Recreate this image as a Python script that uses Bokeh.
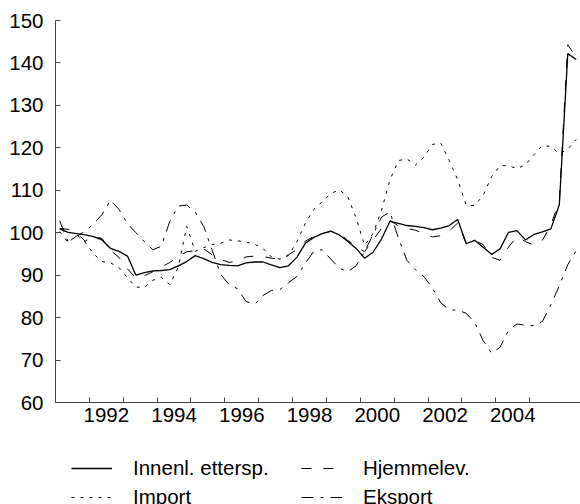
from bokeh.plotting import figure
from bokeh.layouts import column
from bokeh.models import FixedTicker, Legend, LegendItem, Range1d
from bokeh.embed import file_html
from bokeh.resources import INLINE

# Quarterly observations, 1991Q1 .. 2006Q2
start_year = 1991
n_quarters = 62
quarter_x = [start_year + (i // 4) + ((i % 4) + 0.5) / 4 for i in range(n_quarters)]

innenl = [100.9, 100.1, 99.8, 99.5, 99.1, 98.3, 96.3, 95.6, 94.5, 90.0,
          90.6, 91.0, 91.1, 91.3, 92.2, 93.2, 94.6, 93.9, 93.0, 92.5,
          92.3, 92.2, 92.9, 93.1, 93.1, 92.4, 91.8, 92.2, 94.2, 97.5,
          98.9, 99.8, 100.4, 99.5, 98.0, 96.3, 94.0, 95.4, 98.5, 102.7,
          102.2, 101.7, 101.5, 101.2, 100.7, 101.1, 101.7, 103.1, 97.4, 98.2,
          96.6, 94.9, 96.2, 100.1, 100.5, 98.3, 99.6, 100.2, 100.9, 106.6,
          142.2, 140.8]

hjemmelev = [101.0, 100.8, 99.9, 98.0, 99.3, 98.6, 95.8, 94.2, 91.5, 89.3,
             89.9, 90.8, 91.9, 93.0, 94.4, 95.5, 95.8, 96.2, 94.8, 93.7,
             93.0, 93.3, 94.3, 94.5, 94.4, 94.0, 93.8, 94.8, 96.0, 98.0,
             99.2, 99.8, 100.3, 99.9, 98.2, 96.8, 95.5, 98.3, 101.0, 102.9,
             101.6, 101.0, 100.6, 99.8, 99.0, 99.3, 100.4, 102.3, 97.6, 98.2,
             97.2, 94.2, 93.5, 96.6, 99.1, 97.9, 97.1, 98.2, 101.8, 107.5,
             144.3, 141.3]

importv = [100.3, 97.6, 99.5, 97.8, 95.0, 93.2, 92.9, 91.8, 89.4, 87.2,
           87.1, 88.8, 89.5, 87.8, 91.9, 101.5, 95.6, 96.5, 97.2, 97.5,
           98.3, 98.1, 97.8, 97.3, 96.3, 94.3, 93.8, 94.6, 97.8, 102.2,
           105.5, 107.3, 109.2, 110.1, 108.6, 103.5, 97.0, 99.8, 105.3, 112.5,
           117.0, 117.4, 115.9, 117.8, 120.8, 121.1, 117.0, 112.5, 106.5, 106.4,
           108.8, 113.2, 115.8, 115.8, 115.1, 116.0, 118.4, 120.6, 120.3, 118.6,
           119.7, 122.0]

eksport = [102.8, 97.8, 99.2, 100.3, 102.1, 104.3, 107.7, 105.5, 102.1, 100.0,
           97.9, 96.0, 96.8, 102.7, 106.3, 106.5, 104.9, 101.5, 95.9, 90.2,
           87.8, 86.8, 83.8, 83.1, 85.2, 86.4, 86.6, 88.2, 89.7, 92.8,
           95.6, 96.0, 93.8, 91.7, 90.8, 92.2, 95.5, 99.6, 103.7, 104.9,
           98.7, 93.5, 91.3, 89.7, 87.0, 83.5, 81.8, 81.8, 81.0, 78.9,
           74.6, 71.6, 73.0, 77.0, 78.5, 78.2, 78.1, 79.1, 83.0, 87.5,
           92.5, 95.8]

series_labels = ["Innenl. ettersp.", "Hjemmelev.", "Import", "Eksport"]

label_years = [1992, 1994, 1996, 1998, 2000, 2002, 2004]
year_ticks = list(range(1992, 2006))
y_ticks = [60, 70, 80, 90, 100, 110, 120, 130, 140, 150]

FONT = "Liberation Sans"
FSIZE = "20.5px"
AXIS_COLOR = "#444444"

STYLES = {
    "Innenl. ettersp.": dict(line_color="black", line_width=1.3),
    "Hjemmelev.": dict(line_color="black", line_width=1.0, line_dash="10 12"),
    "Import": dict(line_color="black", line_width=1.0, line_dash="3 6"),
    "Eksport": dict(line_color="black", line_width=1.0, line_dash="12 7 3 7"),
}

p = figure(width=580, height=440, output_backend="svg", toolbar_location=None,
           x_range=Range1d(1991, 2006.5), y_range=Range1d(60, 150),
           min_border_left=55, min_border_right=0, min_border_top=20,
           min_border_bottom=38)
p.outline_line_color = None
p.grid.visible = False
p.background_fill_color = "white"
p.border_fill_color = "white"

# x axis: ticks at year boundaries, labels centred in the year
label_pos = [y + 0.5 for y in label_years]
p.xaxis.ticker = FixedTicker(ticks=label_pos, minor_ticks=year_ticks)
p.xaxis.major_label_overrides = {pos: str(y) for pos, y in zip(label_pos, label_years)}
p.xaxis.major_tick_line_color = None
p.xaxis.major_tick_in = 0
p.xaxis.major_tick_out = 0
p.xaxis.minor_tick_in = 5
p.xaxis.minor_tick_out = 0
p.xaxis.minor_tick_line_color = AXIS_COLOR
p.xaxis.axis_line_color = AXIS_COLOR
p.xaxis.major_label_standoff = 5

p.yaxis.ticker = FixedTicker(ticks=y_ticks)
p.yaxis.major_tick_in = 5
p.yaxis.major_tick_out = 0
p.yaxis.minor_tick_line_color = None
p.yaxis.major_tick_line_color = AXIS_COLOR
p.yaxis.axis_line_color = AXIS_COLOR
p.yaxis.major_label_standoff = 12

for ax in (p.xaxis[0], p.yaxis[0]):
    ax.major_label_text_font = FONT
    ax.major_label_text_font_size = FSIZE
    ax.major_label_text_color = "black"

values = {"Innenl. ettersp.": innenl, "Hjemmelev.": hjemmelev,
          "Import": importv, "Eksport": eksport}
for name in series_labels:
    p.line(quarter_x, values[name], **STYLES[name])

# Legend panel below the chart (its own frame; series are out of its view,
# they only serve as legend glyph sources)
pl = figure(width=580, height=64, output_backend="svg", toolbar_location=None,
            x_range=Range1d(0, 1), y_range=Range1d(0, 1),
            x_axis_location=None, y_axis_location=None,
            min_border_left=0, min_border_right=0, min_border_top=0,
            min_border_bottom=0)
pl.outline_line_color = None
pl.grid.visible = False
leg_renderers = {name: pl.line(quarter_x, values[name], **STYLES[name])
                 for name in series_labels}

legend_order = ["Innenl. ettersp.", "Import", "Hjemmelev.", "Eksport"]
legend = Legend(
    items=[LegendItem(label=name, renderers=[leg_renderers[name]]) for name in legend_order],
    location=(16, -5), orientation="vertical", ncols=2,
    glyph_width=41, glyph_height=20, label_standoff=21,
    spacing=5, padding=0, margin=0, label_height=20, label_width=163,
    border_line_color=None, background_fill_alpha=0,
    label_text_font=FONT, label_text_font_size=FSIZE,
    label_text_color="black")
pl.add_layout(legend)

layout = column(p, pl, spacing=0)
open("out.html", "w").write(file_html(layout, INLINE))
